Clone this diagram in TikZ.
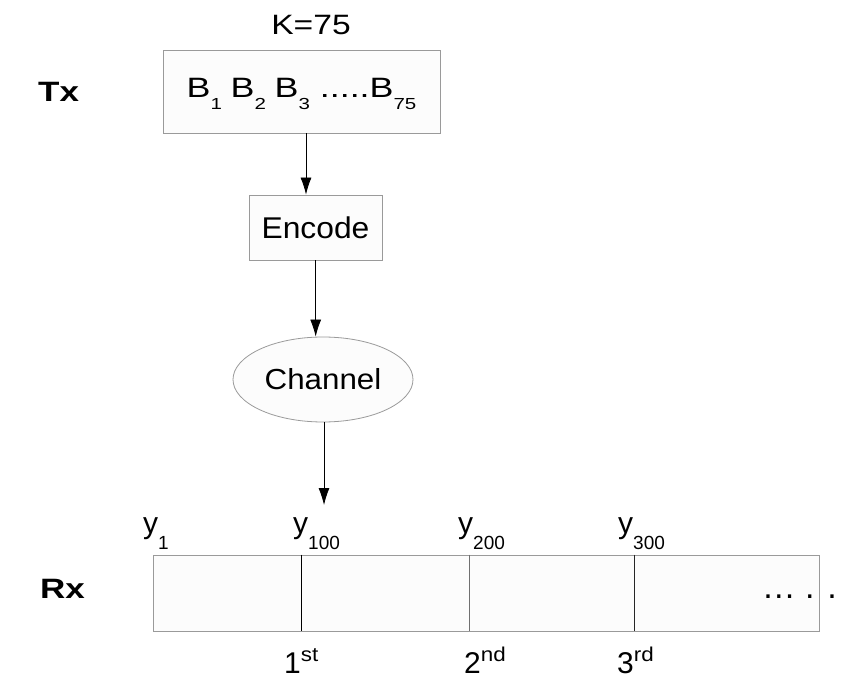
\documentclass[tikz,border=0pt]{standalone}
\usepackage{fontspec}
\setmainfont{Liberation Sans}
\usetikzlibrary{arrows.meta,shapes.geometric}
\definecolor{edgegray}{HTML}{9A9A9A}
\definecolor{divgray}{HTML}{707070}
\definecolor{boxfill}{HTML}{FCFCFC}
\newcommand{\fsz}[1]{\fontsize{#1}{#1}\selectfont}
\newcommand{\subB}[1]{\raisebox{-12pt}{\fsz{16}#1}}
\newcommand{\subY}[1]{\raisebox{-16pt}{\fsz{19}#1}}
\newcommand{\supO}[1]{\raisebox{12pt}{\fsz{20}\scalebox{1.12}[1]{#1}}}
\begin{document}
\begin{tikzpicture}[x=1pt,y=-1pt,
  box/.style={draw=edgegray, fill=boxfill, line width=0.8pt, inner sep=0pt},
  lbl/.style={inner sep=0pt, anchor=base west, font=\fsz{28}},
  ylbl/.style={inner sep=0pt, anchor=base west, font=\fsz{30}},
  arr/.style={-{Latex[length=17pt,width=11pt]}, line width=0.8pt, black},
  divider/.style={line width=0.8pt}]
\useasboundingbox (0,0) rectangle (844,676);
% side labels
\node[lbl, font=\fsz{28}\bfseries] (tx) at (38,102) {\scalebox{1.25}[1]{Tx}};
\node[lbl, font=\fsz{28}\bfseries] (rx) at (40,598) {\scalebox{1.25}[1]{Rx}};
% transmitter
\node[inner sep=0pt, anchor=base, font=\fsz{28}] (k) at (311,35) {\scalebox{1.2}[1]{K=75}};
\node[box, minimum width=277pt, minimum height=83pt, text height=20pt, text depth=7pt, font=\fsz{28}] (bits) at (301.5,91.5)
  {\scalebox{1.28}[1]{B\subB{1}\hspace{-1pt} B\subB{2}\hspace{-1pt} B\subB{3} .....B\subB{75}}};
\node[box, minimum width=133pt, minimum height=65pt, font=\fsz{30}] (enc) at (315.5,227.5) {\scalebox{1.06}[1]{Encode}};
\node[box, ellipse, minimum width=180pt, minimum height=85pt, font=\fsz{29}] (chan) at (323,379.5) {\scalebox{1.08}[1]{Channel}};
\coordinate (arrend) at (324,505);
\draw[arr] ([xshift=4.5pt]bits.south) -- ([xshift=-9.5pt]enc.north);
\draw[arr] ([xshift=0.2pt]enc.south) -- ([xshift=-7.3pt]chan.north);
\draw[arr] ([xshift=1pt]chan.south) -- (arrend);
% receiver buffer
\node[box, minimum width=666pt, minimum height=76pt] (buf) at (486.5,593) {};
\draw[divider, black] ([xshift=148pt]buf.north west) -- ([xshift=148pt]buf.south west);
\draw[divider, divgray] ([xshift=316.5pt]buf.north west) -- ([xshift=316.5pt]buf.south west);
\draw[divider, black!85] ([xshift=481pt]buf.north west) -- ([xshift=481pt]buf.south west);
\node[inner sep=0pt, anchor=base west, font=\fsz{34}] (dots) at (761.6,598.5) {… . .};
% y labels
\node[ylbl] (y1) at (143,533) {y\subY{1}};
\node[ylbl] (y100) at (293,533) {y\subY{100}};
\node[ylbl] (y200) at (458,533) {y\subY{200}};
\node[ylbl] (y300) at (618,533) {y\subY{300}};
% ordinals
\node[ylbl] (o1) at (284,673) {1\supO{st}};
\node[ylbl] (o2) at (464,673) {2\supO{nd}};
\node[ylbl] (o3) at (617,673) {3\supO{rd}};
\end{tikzpicture}
\end{document}
